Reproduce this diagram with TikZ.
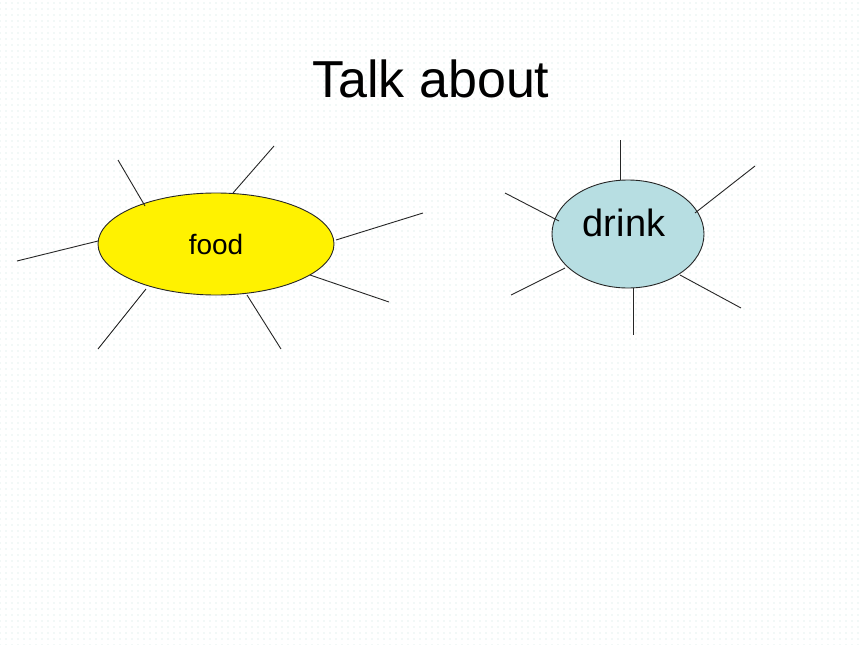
\documentclass[tikz,border=0pt]{standalone}
\usepackage{fontspec}
\setmainfont{Liberation Sans}
\usetikzlibrary{shapes.geometric,patterns.meta}
\definecolor{dotc}{RGB}{200,225,223}
\definecolor{drinkc}{RGB}{183,222,226}
\tikzset{
  bubble/.style={ellipse, draw=black!85, line width=0.9pt, inner sep=0pt},
  ray/.style={draw=black!85, line width=0.9pt},
  lbl/.style={anchor=base, inner sep=0pt, text=black}
}
\begin{document}
\begin{tikzpicture}[x=1pt,y=-1pt]
\useasboundingbox (0,0) rectangle (860,645);
\fill[white] (0,0) rectangle (860,645);
\fill[pattern={Dots[distance=6pt,radius=0.6pt]}, pattern color=dotc] (0,0) rectangle (860,645);
% title
\node[lbl, font=\fontsize{52}{62}\selectfont] (title) at (431,97) {Talk about};
% food
\node[bubble, fill=yellow, minimum width=236pt, minimum height=102pt] (food) at (216,244) {};
\node[lbl, font=\fontsize{28}{34}\selectfont] (foodt) at (216,254) {food};
% drink
\node[bubble, fill=drinkc, minimum width=152pt, minimum height=108pt] (drink) at (628,234) {};
\node[lbl, font=\fontsize{38}{46}\selectfont] (drinkt) at (624,236) {drink};
% food rays
\coordinate (f1a) at (145,206); \coordinate (f1b) at (118,160);
\coordinate (f2a) at (233,193); \coordinate (f2b) at (274,146);
\coordinate (f3a) at (336,240); \coordinate (f3b) at (423,213);
\coordinate (f4a) at (310,275); \coordinate (f4b) at (389,302);
\coordinate (f5a) at (247,295); \coordinate (f5b) at (281,349);
\coordinate (f6a) at (146,289); \coordinate (f6b) at (98,349);
\coordinate (f7a) at (98,241);  \coordinate (f7b) at (17,261);
\foreach \i in {1,...,7}{\draw[ray] (f\i a) -- (f\i b);}
% drink rays
\coordinate (d1a) at (620,180); \coordinate (d1b) at (620,140);
\coordinate (d2a) at (695,213); \coordinate (d2b) at (755,166);
\coordinate (d3a) at (559,221); \coordinate (d3b) at (505,193);
\coordinate (d4a) at (565,268); \coordinate (d4b) at (511,295);
\coordinate (d5a) at (633,288); \coordinate (d5b) at (633,335);
\coordinate (d6a) at (680,275); \coordinate (d6b) at (741,308);
\foreach \i in {1,...,6}{\draw[ray] (d\i a) -- (d\i b);}
\end{tikzpicture}
\end{document}
